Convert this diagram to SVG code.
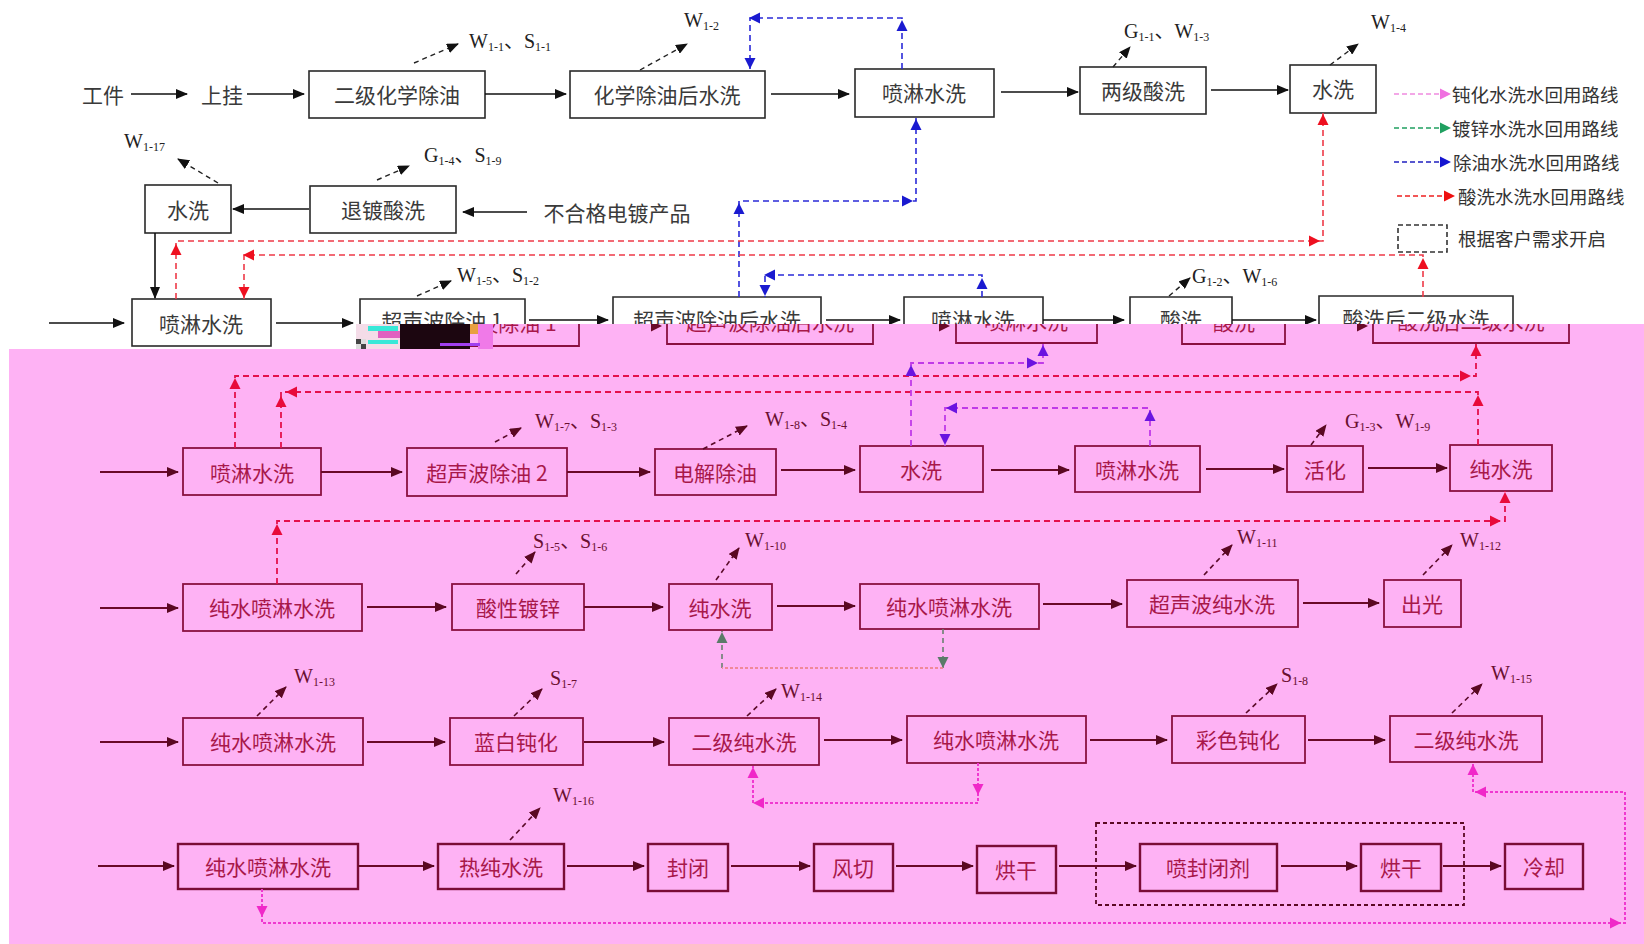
<svg xmlns="http://www.w3.org/2000/svg" xmlns:xlink="http://www.w3.org/1999/xlink" width="1644" height="944" viewBox="0 0 1644 944">
<defs>
<style>
.bx{fill:none;stroke:#2a2a2a;stroke-width:1.6}
.tx{font-family:"Noto Sans CJK SC",sans-serif;font-size:21px;fill:#3a3a3a;text-anchor:middle;dominant-baseline:central}
.pbx{fill:none;stroke:#8a1040;stroke-width:1.8}
.pbx2{fill:none;stroke:#7a0c36;stroke-width:2.4}
.ptx{font-family:"Noto Sans CJK SC",sans-serif;font-size:21px;fill:#a8184a;text-anchor:middle;dominant-baseline:central}
.lb{font-family:"Liberation Serif","Noto Sans CJK SC",serif;font-size:20px;fill:#222}
.plb{font-family:"Liberation Serif","Noto Sans CJK SC",serif;font-size:20px;fill:#6a0f30}
.s{font-size:12px}
.lg{font-family:"Noto Sans CJK SC",sans-serif;font-size:18.5px;fill:#333;dominant-baseline:central}
.ar{stroke:#111;stroke-width:1.6;fill:none;marker-end:url(#mb)}
.par{stroke:#6a0a28;stroke-width:2;fill:none;marker-end:url(#mm)}
.dl{stroke:#222;stroke-width:1.4;stroke-dasharray:5 4;fill:none;marker-end:url(#mdb)}
.pdl{stroke:#5a0a28;stroke-width:1.6;stroke-dasharray:5 4;fill:none;marker-end:url(#mdm)}
.blu{stroke:#2a2ad8;stroke-width:1.6;stroke-dasharray:6 4;fill:none}
.red{stroke:#ee3a48;stroke-width:1.6;stroke-dasharray:6 4;fill:none}
.pred{stroke:#e4104c;stroke-width:1.8;stroke-dasharray:6 4;fill:none}
.pur{stroke:#c03ae8;stroke-width:1.8;stroke-dasharray:6 4;fill:none}
.gg{stroke:#6a8070;stroke-width:1.6;stroke-dasharray:5 4;fill:none}
.sal{stroke:#f08898;stroke-width:2;stroke-dasharray:3 2;fill:none}
.mag{stroke:#f038d0;stroke-width:2;stroke-dasharray:3 2;fill:none}
</style>
<marker id="mb" markerUnits="userSpaceOnUse" markerWidth="12" markerHeight="10" refX="11" refY="5" orient="auto"><path d="M0 0 L12 5 L0 10 Z" fill="#111"/></marker>
<marker id="mm" markerUnits="userSpaceOnUse" markerWidth="12" markerHeight="10" refX="11" refY="5" orient="auto"><path d="M0 0 L12 5 L0 10 Z" fill="#5a0822"/></marker>
<marker id="mdb" markerUnits="userSpaceOnUse" markerWidth="12" markerHeight="10" refX="11" refY="5" orient="auto"><path d="M0 0 L12 5 L0 10 Z" fill="#111"/></marker>
<marker id="mdm" markerUnits="userSpaceOnUse" markerWidth="12" markerHeight="10" refX="11" refY="5" orient="auto"><path d="M0 0 L12 5 L0 10 Z" fill="#5a0822"/></marker>
<path id="ah" d="M0 0 L-11 -5.5 L-11 5.5 Z"/>
<clipPath id="cp"><rect x="0" y="324" width="1644" height="40"/></clipPath>
</defs>
<rect x="0" y="0" width="1644" height="944" fill="#ffffff"/>

<!-- ===== top (white) region ===== -->
<g id="n-gongjian"><text class="tx" x="103" y="94">工件</text></g>
<g id="n-shanggua"><text class="tx" x="222" y="94">上挂</text></g>
<g id="n-a"><rect class="bx" x="309" y="71" width="176" height="47"/><text class="tx" x="397" y="94">二级化学除油</text></g>
<g id="n-b"><rect class="bx" x="570" y="71" width="195" height="47"/><text class="tx" x="667" y="94">化学除油后水洗</text></g>
<g id="n-c"><rect class="bx" x="855" y="69" width="139" height="48"/><text class="tx" x="924" y="92">喷淋水洗</text></g>
<g id="n-d"><rect class="bx" x="1080" y="67" width="126" height="47"/><text class="tx" x="1143" y="90">两级酸洗</text></g>
<g id="n-e"><rect class="bx" x="1290" y="65" width="86" height="48"/><text class="tx" x="1333" y="88">水洗</text></g>
<g id="n-f"><rect class="bx" x="145" y="185" width="86" height="48"/><text class="tx" x="188" y="209">水洗</text></g>
<g id="n-g"><rect class="bx" x="310" y="186" width="146" height="47"/><text class="tx" x="383" y="209">退镀酸洗</text></g>
<g id="n-bhg"><text class="tx" x="617" y="212">不合格电镀产品</text></g>
<g id="n-h"><rect class="bx" x="132" y="299" width="139" height="47"/><text class="tx" x="201" y="323">喷淋水洗</text></g>
<g id="n-i"><path class="bx" d="M360 340 V299 H525 V340"/><text class="tx" x="442" y="320">超声波除油 1</text></g>
<g id="n-j"><path class="bx" d="M613 340 V297 H821 V340"/><text class="tx" x="717" y="319">超声波除油后水洗</text></g>
<g id="n-k"><path class="bx" d="M904 340 V297 H1043 V340"/><text class="tx" x="973" y="319">喷淋水洗</text></g>
<g id="n-l"><path class="bx" d="M1130 340 V297 H1232 V340"/><text class="tx" x="1181" y="319">酸洗</text></g>
<g id="n-m"><path class="bx" d="M1319 340 V296 H1513 V340"/><text class="tx" x="1416" y="318">酸洗后二级水洗</text></g>

<g id="labels-top">
<text class="lb" x="469" y="48">W<tspan class="s" dy="3">1-1</tspan><tspan dy="-3">、S</tspan><tspan class="s" dy="3">1-1</tspan></text>
<text class="lb" x="684" y="27">W<tspan class="s" dy="3">1-2</tspan></text>
<text class="lb" x="1124" y="38">G<tspan class="s" dy="3">1-1</tspan><tspan dy="-3">、W</tspan><tspan class="s" dy="3">1-3</tspan></text>
<text class="lb" x="1371" y="29">W<tspan class="s" dy="3">1-4</tspan></text>
<text class="lb" x="124" y="148">W<tspan class="s" dy="3">1-17</tspan></text>
<text class="lb" x="424" y="162">G<tspan class="s" dy="3">1-4</tspan><tspan dy="-3">、S</tspan><tspan class="s" dy="3">1-9</tspan></text>
<text class="lb" x="457" y="282">W<tspan class="s" dy="3">1-5</tspan><tspan dy="-3">、S</tspan><tspan class="s" dy="3">1-2</tspan></text>
<text class="lb" x="1192" y="283">G<tspan class="s" dy="3">1-2</tspan><tspan dy="-3">、W</tspan><tspan class="s" dy="3">1-6</tspan></text>
</g>

<g id="legend">
<path d="M1394 94 H1440" stroke="#f08ae0" stroke-width="1.6" stroke-dasharray="5 3"/><use href="#ah" transform="translate(1451 94)" fill="#f070e0"/>
<text class="lg" x="1452" y="94">钝化水洗水回用路线</text>
<path d="M1394 128 H1440" stroke="#20a060" stroke-width="1.6" stroke-dasharray="5 3"/><use href="#ah" transform="translate(1451 128)" fill="#20a060"/>
<text class="lg" x="1452" y="128">镀锌水洗水回用路线</text>
<path d="M1394 162 H1440" stroke="#2020c0" stroke-width="1.6" stroke-dasharray="5 3"/><use href="#ah" transform="translate(1451 162)" fill="#1515d0"/>
<text class="lg" x="1453" y="162">除油水洗水回用路线</text>
<path d="M1397 196 H1444" stroke="#ee2020" stroke-width="1.6" stroke-dasharray="5 3"/><use href="#ah" transform="translate(1455 196)" fill="#ee1010"/>
<text class="lg" x="1458" y="196">酸洗水洗水回用路线</text>
<rect x="1398" y="225" width="49" height="27" fill="none" stroke="#333" stroke-width="1.6" stroke-dasharray="5 3"/>
<text class="lg" x="1458" y="238">根据客户需求开启</text>
</g>

<g id="connectors-top">
<path class="ar" d="M131 94 H187"/>
<path class="ar" d="M247 94 H304"/>
<path class="ar" d="M485 94 H566"/>
<path class="ar" d="M771 94 H849"/>
<path class="ar" d="M1001 92 H1078"/>
<path class="ar" d="M1211 90 H1288"/>
<path class="ar" d="M309 209 H233"/>
<path class="ar" d="M527 212 H463"/>
<path class="ar" d="M155 233 V298"/>
<path class="ar" d="M49 323 H124"/>
<path class="ar" d="M276 323 H353"/>
<path class="ar" d="M529 320 H608"/>
<path class="ar" d="M826 320 H900"/>
<path class="ar" d="M1043 320 H1124"/>
<path class="ar" d="M1232 320 H1316"/>
<path class="dl" d="M414 63 L458 44"/>
<path class="dl" d="M640 70 L687 44"/>
<path class="dl" d="M1113 67 L1130 47"/>
<path class="dl" d="M1330 65 L1358 44"/>
<path class="dl" d="M218 183 L178 159"/>
<path class="dl" d="M377 180 L409 166"/>
<path class="dl" d="M417 296 L451 281"/>
<path class="dl" d="M1169 296 L1190 278"/>
<path class="blu" d="M902 69 V18 H750 V69"/>
<path class="blu" d="M739 297 V201 H916 V118"/>
<path class="blu" d="M982 297 V275 H765 V297"/>
<g fill="#1a1ad0">
<use href="#ah" transform="translate(902 20) rotate(-90)"/>
<use href="#ah" transform="translate(749 18) rotate(180)"/>
<use href="#ah" transform="translate(750 69) rotate(90)"/>
<use href="#ah" transform="translate(739 203) rotate(-90)"/>
<use href="#ah" transform="translate(913 201)"/>
<use href="#ah" transform="translate(916 119) rotate(-90)"/>
<use href="#ah" transform="translate(982 278) rotate(-90)"/>
<use href="#ah" transform="translate(764 275) rotate(180)"/>
<use href="#ah" transform="translate(765 296) rotate(90)"/>
</g>
<path class="red" d="M176 299 V241 H1323 V113"/>
<path class="red" d="M1423 297 V255 H244 V299"/>
<g fill="#ee1020">
<use href="#ah" transform="translate(176 244) rotate(-90)"/>
<use href="#ah" transform="translate(1320 241)"/>
<use href="#ah" transform="translate(1323 114) rotate(-90)"/>
<use href="#ah" transform="translate(1423 258) rotate(-90)"/>
<use href="#ah" transform="translate(243 255) rotate(180)"/>
<use href="#ah" transform="translate(244 298) rotate(90)"/>
</g>
</g>

<!-- ===== pink overlay region ===== -->
<path id="pink-bg" d="M9 349 H356 V324 H1644 V944 H9 Z" fill="#feb2f4"/>

<g id="pink-partial" clip-path="url(#cp)">
<g id="p-i"><path class="pbx" d="M414 300 V346 H579 V300"/><text class="ptx" x="496" y="322">超声波除油 1</text></g>
<g id="p-j"><path class="pbx" d="M667 300 V344 H873 V300"/><text class="ptx" x="770" y="321">超声波除油后水洗</text></g>
<g id="p-k"><path class="pbx" d="M956 300 V343 H1097 V300"/><text class="ptx" x="1026" y="320">喷淋水洗</text></g>
<g id="p-l"><path class="pbx" d="M1182 300 V344 H1285 V300"/><text class="ptx" x="1234" y="321">酸洗</text></g>
<g id="p-m"><path class="pbx" d="M1373 300 V343 H1569 V300"/><text class="ptx" x="1471" y="320">酸洗后二级水洗</text></g>
<g fill="#6a0a28">
<use href="#ah" transform="translate(662 326)"/>
<use href="#ah" transform="translate(950 326)"/>
<use href="#ah" transform="translate(1368 326)"/>
</g>
</g>

<g id="glitch">
<rect x="356" y="324" width="50" height="25" fill="#f4dce8"/>
<rect x="356" y="339" width="5" height="5" fill="#444"/><rect x="361" y="344" width="5" height="5" fill="#444"/><rect x="361" y="339" width="5" height="5" fill="#ddd"/><rect x="356" y="344" width="5" height="5" fill="#ddd"/>
<rect x="368" y="326" width="30" height="5" fill="#38e8d8"/>
<rect x="368" y="340" width="30" height="4" fill="#38e8d8"/>
<rect x="378" y="331" width="24" height="7" fill="#e060c0"/>
<rect x="400" y="324" width="70" height="25" fill="#1c0610"/>
<rect x="470" y="324" width="9" height="10" fill="#e8a040"/>
<rect x="478" y="324" width="15" height="25" fill="#f07ae8"/>
<rect x="440" y="343" width="40" height="3" fill="#a040f0"/>
</g>

<!-- row 4 -->
<g id="r4-1"><rect class="pbx" x="183" y="448" width="138" height="47"/><text class="ptx" x="252" y="472">喷淋水洗</text></g>
<g id="r4-2"><rect class="pbx" x="407" y="448" width="160" height="48"/><text class="ptx" x="487" y="472">超声波除油 2</text></g>
<g id="r4-3"><rect class="pbx" x="655" y="449" width="121" height="46"/><text class="ptx" x="715" y="472">电解除油</text></g>
<g id="r4-4"><rect class="pbx" x="860" y="446" width="123" height="46"/><text class="ptx" x="921" y="469">水洗</text></g>
<g id="r4-5"><rect class="pbx" x="1075" y="446" width="125" height="46"/><text class="ptx" x="1137" y="469">喷淋水洗</text></g>
<g id="r4-6"><rect class="pbx" x="1287" y="446" width="76" height="46"/><text class="ptx" x="1325" y="469">活化</text></g>
<g id="r4-7"><rect class="pbx" x="1450" y="445" width="102" height="46"/><text class="ptx" x="1501" y="468">纯水洗</text></g>
<!-- row 5 -->
<g id="r5-1"><rect class="pbx" x="183" y="584" width="179" height="47"/><text class="ptx" x="272" y="607">纯水喷淋水洗</text></g>
<g id="r5-2"><rect class="pbx" x="452" y="584" width="132" height="46"/><text class="ptx" x="518" y="607">酸性镀锌</text></g>
<g id="r5-3"><rect class="pbx" x="669" y="584" width="103" height="46"/><text class="ptx" x="720" y="607">纯水洗</text></g>
<g id="r5-4"><rect class="pbx" x="860" y="584" width="179" height="45"/><text class="ptx" x="949" y="606">纯水喷淋水洗</text></g>
<g id="r5-5"><rect class="pbx" x="1127" y="580" width="171" height="47"/><text class="ptx" x="1212" y="603">超声波纯水洗</text></g>
<g id="r5-6"><rect class="pbx" x="1384" y="580" width="77" height="47"/><text class="ptx" x="1422" y="603">出光</text></g>
<!-- row 6 -->
<g id="r6-1"><rect class="pbx" x="183" y="718" width="180" height="47"/><text class="ptx" x="273" y="741">纯水喷淋水洗</text></g>
<g id="r6-2"><rect class="pbx" x="450" y="718" width="133" height="47"/><text class="ptx" x="516" y="741">蓝白钝化</text></g>
<g id="r6-3"><rect class="pbx" x="669" y="718" width="150" height="47"/><text class="ptx" x="744" y="741">二级纯水洗</text></g>
<g id="r6-4"><rect class="pbx" x="907" y="716" width="179" height="47"/><text class="ptx" x="996" y="739">纯水喷淋水洗</text></g>
<g id="r6-5"><rect class="pbx" x="1172" y="716" width="133" height="47"/><text class="ptx" x="1238" y="739">彩色钝化</text></g>
<g id="r6-6"><rect class="pbx" x="1390" y="716" width="152" height="46"/><text class="ptx" x="1466" y="739">二级纯水洗</text></g>
<!-- row 7 -->
<g id="r7-1"><rect class="pbx2" x="178" y="844" width="180" height="45"/><text class="ptx" x="268" y="866">纯水喷淋水洗</text></g>
<g id="r7-2"><rect class="pbx2" x="438" y="844" width="126" height="45"/><text class="ptx" x="501" y="866">热纯水洗</text></g>
<g id="r7-3"><rect class="pbx2" x="648" y="844" width="80" height="47"/><text class="ptx" x="688" y="867">封闭</text></g>
<g id="r7-4"><rect class="pbx2" x="814" y="844" width="79" height="47"/><text class="ptx" x="853" y="867">风切</text></g>
<g id="r7-5"><rect class="pbx2" x="977" y="846" width="79" height="47"/><text class="ptx" x="1016" y="869">烘干</text></g>
<g id="r7-box"><rect x="1096" y="823" width="368" height="82" fill="none" stroke="#5a0822" stroke-width="1.8" stroke-dasharray="4 3"/></g>
<g id="r7-6"><rect class="pbx2" x="1140" y="844" width="137" height="47"/><text class="ptx" x="1208" y="867">喷封闭剂</text></g>
<g id="r7-7"><rect class="pbx2" x="1361" y="844" width="80" height="47"/><text class="ptx" x="1401" y="867">烘干</text></g>
<g id="r7-8"><rect class="pbx2" x="1505" y="844" width="78" height="45"/><text class="ptx" x="1544" y="866">冷却</text></g>

<g id="labels-pink">
<text class="plb" x="535" y="428">W<tspan class="s" dy="3">1-7</tspan><tspan dy="-3">、S</tspan><tspan class="s" dy="3">1-3</tspan></text>
<text class="plb" x="765" y="426">W<tspan class="s" dy="3">1-8</tspan><tspan dy="-3">、S</tspan><tspan class="s" dy="3">1-4</tspan></text>
<text class="plb" x="1345" y="428">G<tspan class="s" dy="3">1-3</tspan><tspan dy="-3">、W</tspan><tspan class="s" dy="3">1-9</tspan></text>
<text class="plb" x="533" y="548">S<tspan class="s" dy="3">1-5</tspan><tspan dy="-3">、S</tspan><tspan class="s" dy="3">1-6</tspan></text>
<text class="plb" x="745" y="547">W<tspan class="s" dy="3">1-10</tspan></text>
<text class="plb" x="1237" y="544">W<tspan class="s" dy="3">1-11</tspan></text>
<text class="plb" x="1460" y="547">W<tspan class="s" dy="3">1-12</tspan></text>
<text class="plb" x="294" y="683">W<tspan class="s" dy="3">1-13</tspan></text>
<text class="plb" x="550" y="685">S<tspan class="s" dy="3">1-7</tspan></text>
<text class="plb" x="781" y="698">W<tspan class="s" dy="3">1-14</tspan></text>
<text class="plb" x="1281" y="682">S<tspan class="s" dy="3">1-8</tspan></text>
<text class="plb" x="1491" y="680">W<tspan class="s" dy="3">1-15</tspan></text>
<text class="plb" x="553" y="802">W<tspan class="s" dy="3">1-16</tspan></text>
</g>

<g id="connectors-pink">
<path class="par" d="M100 472 H178"/>
<path class="par" d="M321 472 H402"/>
<path class="par" d="M567 472 H650"/>
<path class="par" d="M781 470 H855"/>
<path class="par" d="M991 470 H1069"/>
<path class="par" d="M1206 469 H1284"/>
<path class="par" d="M1368 468 H1447"/>
<path class="par" d="M100 608 H178"/>
<path class="par" d="M367 607 H446"/>
<path class="par" d="M584 607 H663"/>
<path class="par" d="M777 606 H855"/>
<path class="par" d="M1043 604 H1122"/>
<path class="par" d="M1303 603 H1379"/>
<path class="par" d="M100 742 H178"/>
<path class="par" d="M367 742 H445"/>
<path class="par" d="M584 742 H664"/>
<path class="par" d="M824 740 H902"/>
<path class="par" d="M1090 740 H1167"/>
<path class="par" d="M1308 740 H1385"/>
<path class="par" d="M98 866 H174"/>
<path class="par" d="M358 866 H434"/>
<path class="par" d="M567 866 H644"/>
<path class="par" d="M731 866 H810"/>
<path class="par" d="M896 866 H973"/>
<path class="par" d="M1059 866 H1136"/>
<path class="par" d="M1281 866 H1357"/>
<path class="par" d="M1443 866 H1501"/>
<path class="pdl" d="M495 442 L521 428"/>
<path class="pdl" d="M703 449 L747 426"/>
<path class="pdl" d="M1311 445 L1326 425"/>
<path class="pdl" d="M516 574 L535 552"/>
<path class="pdl" d="M716 580 L739 548"/>
<path class="pdl" d="M1204 575 L1232 545"/>
<path class="pdl" d="M1423 575 L1452 545"/>
<path class="pdl" d="M257 716 L286 687"/>
<path class="pdl" d="M514 716 L542 689"/>
<path class="pdl" d="M747 716 L776 689"/>
<path class="pdl" d="M1246 713 L1277 684"/>
<path class="pdl" d="M1452 713 L1482 684"/>
<path class="pdl" d="M510 840 L540 808"/>
<path class="pred" d="M235 448 V376 H1476 V344"/>
<path class="pred" d="M281 448 V392 H1478 V445"/>
<path class="pred" d="M277 584 V521 H1505 V491"/>
<g fill="#e80a3a">
<use href="#ah" transform="translate(235 378) rotate(-90)"/>
<use href="#ah" transform="translate(1471 376)"/>
<use href="#ah" transform="translate(1476 345) rotate(-90)"/>
<use href="#ah" transform="translate(281 396) rotate(-90)"/>
<use href="#ah" transform="translate(286 392) rotate(180)"/>
<use href="#ah" transform="translate(1478 395) rotate(-90)"/>
<use href="#ah" transform="translate(277 524) rotate(-90)"/>
<use href="#ah" transform="translate(1501 521)"/>
<use href="#ah" transform="translate(1505 492) rotate(-90)"/>
</g>
<path class="pur" d="M911 446 V363 H1043 V344"/>
<path class="pur" d="M1150 446 V408 H945 V446"/>
<g fill="#6a14e0">
<use href="#ah" transform="translate(911 365) rotate(-90)"/>
<use href="#ah" transform="translate(1038 363)"/>
<use href="#ah" transform="translate(1043 345) rotate(-90)"/>
<use href="#ah" transform="translate(1150 410) rotate(-90)"/>
<use href="#ah" transform="translate(946 408) rotate(180)"/>
<use href="#ah" transform="translate(945 445) rotate(90)"/>
</g>
<path class="gg" d="M943 629 V668"/>
<path class="gg" d="M722 668 V631"/>
<path class="sal" d="M943 668 H722"/>
<g fill="#5a7a68">
<use href="#ah" transform="translate(943 668) rotate(90)"/>
<use href="#ah" transform="translate(722 632) rotate(-90)"/>
</g>
<path class="mag" d="M978 763 V803 H753 V766"/>
<path class="mag" d="M262 889 V923 H1625 V792 H1473 V763"/>
<g fill="#f028c8">
<use href="#ah" transform="translate(978 795) rotate(90)"/>
<use href="#ah" transform="translate(753 803) rotate(180)"/>
<use href="#ah" transform="translate(753 767) rotate(-90)"/>
<use href="#ah" transform="translate(262 917) rotate(90)"/>
<use href="#ah" transform="translate(1621 923)"/>
<use href="#ah" transform="translate(1475 792) rotate(180)"/>
<use href="#ah" transform="translate(1473 764) rotate(-90)"/>
</g>
</g>
</svg>
